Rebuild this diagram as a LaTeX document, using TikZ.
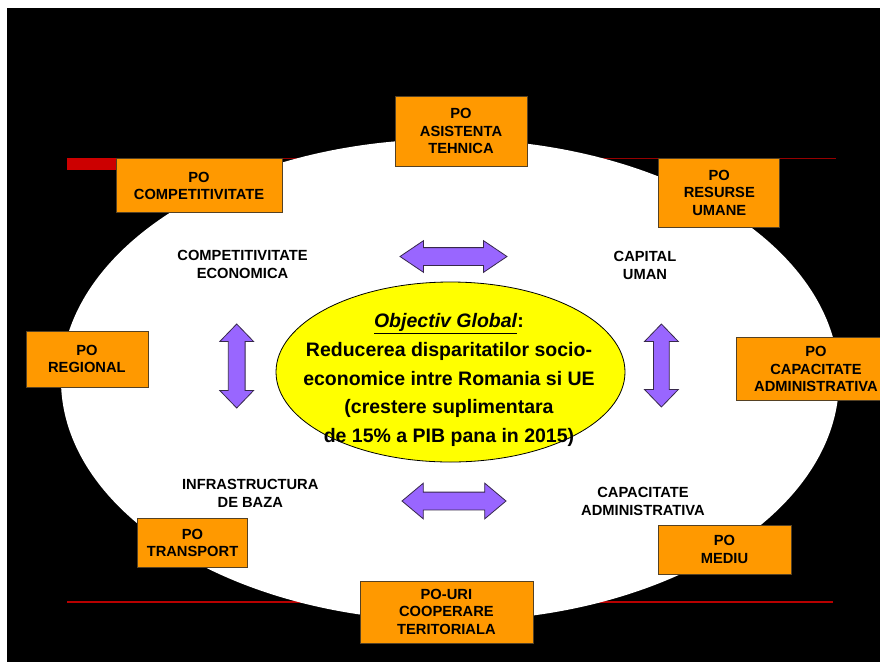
\documentclass[tikz,border=0pt]{standalone}
\usepackage{fontspec}
\setmainfont{Liberation Sans}
\usetikzlibrary{shapes.arrows,shapes.geometric}

\definecolor{poorange}{RGB}{255,153,0}
\definecolor{poedge}{RGB}{85,65,35}
\definecolor{linkpurple}{RGB}{153,102,255}
\definecolor{linkedge}{RGB}{55,40,75}
\definecolor{barred}{RGB}{204,0,0}
\definecolor{linered}{RGB}{150,0,0}
\definecolor{goalyellow}{RGB}{255,255,0}

\tikzset{
  pobox/.style={draw=poedge, line width=0.8pt, fill=poorange, align=center, inner sep=0pt,
    font=\fontsize{14.7}{17.3}\selectfont\bfseries},
  axis label/.style={align=center, font=\fontsize{14.7}{18}\selectfont\bfseries},
  link/.style={double arrow, draw=linkedge, line width=0.8pt, fill=linkpurple, inner xsep=0pt}
}

\begin{document}
\begin{tikzpicture}[x=1pt,y=-1pt]
\clip (0,0) rectangle (880,662);
% Background
\fill[white] (0,0) rectangle (880,662);
\fill[black] (7,8) rectangle (880,662);

% Red rules
\fill[barred] (67,158) rectangle (116,170);
\draw[linered, line width=1.5pt] (116,158.5) -- (836,158.5);
\draw[barred!90!black, line width=1.5pt] (67,602) -- (833,602);

% Outer oval
\fill[white] (450,380) ellipse [x radius=389pt, y radius=241pt];

% Links between the four axes
\node[link, minimum height=107pt, inner ysep=8.5pt, double arrow head extend=7pt, double arrow tip angle=68] (arrtop) at (453.5,256.5) {};
\node[link, minimum height=104pt, inner ysep=8.5pt, double arrow head extend=9pt, double arrow tip angle=80] (arrbottom) at (454,501) {};
\node[link, rotate=90, minimum height=84pt, inner ysep=8pt, double arrow head extend=8.5pt, double arrow tip angle=88] (arrleft) at (236.7,366) {};
\node[link, rotate=90, minimum height=83pt, inner ysep=7.5pt, double arrow head extend=9pt, double arrow tip angle=88] (arrright) at (661.4,365.5) {};

% Global objective
\node[ellipse, draw=black, line width=0.8pt, fill=goalyellow, minimum width=349pt, minimum height=180pt, inner sep=0pt] (goal) at (450.5,372) {};
\node[align=center, font=\fontsize{19.5}{28.6}\selectfont\bfseries] (goaltext) at (449,380)
  {\underline{\textit{Objectiv Global}}:\\Reducerea disparitatilor socio-\\economice intre Romania si UE\\(crestere suplimentara\\de 15\% a PIB pana in 2015)};

% Axes
\node[axis label] (lblcomp) at (242.5,264) {COMPETITIVITATE\\ECONOMICA};
\node[axis label] (lblcapital) at (645,265) {CAPITAL\\UMAN};
\node[axis label] (lblinfra) at (250.3,493) {INFRASTRUCTURA\\DE BAZA};
\node[axis label] (lbladmin) at (643,501) {CAPACITATE\\ADMINISTRATIVA};

% Operational programmes
\node[pobox, minimum width=132pt, minimum height=70pt] (asistenta) at (461,131) {PO\\ASISTENTA\\TEHNICA};
\node[pobox, minimum width=166pt, minimum height=54pt] (competit) at (199,185.6) {PO\\COMPETITIVITATE};
\node[pobox, minimum width=121pt, minimum height=69pt] (resurse) at (719.3,192.8) {PO\\RESURSE\\UMANE};
\node[pobox, minimum width=122pt, minimum height=56pt] (regional) at (86.9,358.9) {PO\\REGIONAL};
\node[pobox, minimum width=159pt, minimum height=63pt] (capadm) at (816,369.2) {PO\\CAPACITATE\\ADMINISTRATIVA};
\node[pobox, minimum width=110pt, minimum height=49pt] (transport) at (192.5,543) {PO\\TRANSPORT};
\node[pobox, minimum width=133pt, minimum height=49pt] (mediu) at (724.5,549.5) {PO\\MEDIU};
\node[pobox, minimum width=173pt, minimum height=62pt] (cooperare) at (446.4,611.9) {PO-URI\\COOPERARE\\TERITORIALA};
\end{tikzpicture}
\end{document}
